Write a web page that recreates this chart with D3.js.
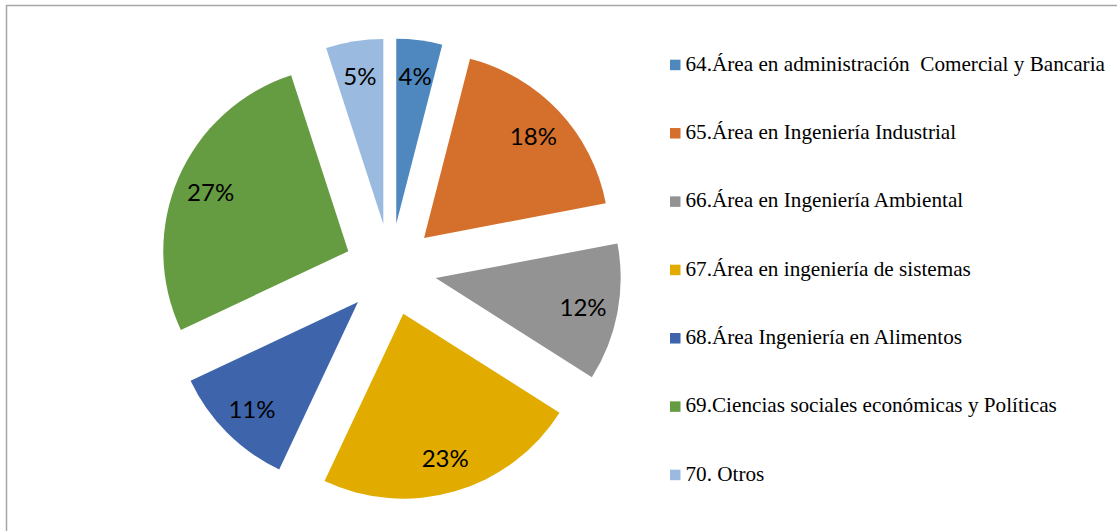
<!DOCTYPE html>
<html>
<head>
<meta charset="utf-8">
<script src="https://cdn.jsdelivr.net/npm/d3@7"></script>
<style>
    body { margin: 0; background: #ffffff; }
    #pieChart { width: 1117px; height: 531px; }
    svg { width: 1117px; height: 531px; display: block; }
    .legend text { font-family: "Liberation Serif", "Times New Roman", serif; font-size: 21.2px; white-space: pre; }
</style>
</head>
<body>
<div id="pieChart"></div>
<script>
// categories (legend order = slice order, clockwise from 12 o'clock)
const categories = [
    "64.Área en administración  Comercial y Bancaria",
    "65.Área en Ingeniería Industrial",
    "66.Área en Ingeniería Ambiental",
    "67.Área en ingeniería de sistemas",
    "68.Área Ingeniería en Alimentos",
    "69.Ciencias sociales económicas y Políticas",
    "70. Otros"
];
// percentages shown on the slices
const values = [4, 18, 12, 23, 11, 27, 5];
const colors = ["#4f88be", "#d5702c", "#939393", "#e2ab00", "#3e64ac", "#659b41", "#9bbae0"];

var svg;
var width, height;
var cx = 390.5, cy = 269.5;   // pie centre
var radius = 185;
var explode = 46;             // how far each slice is pulled out

document.addEventListener('DOMContentLoaded', function () {
    svg = d3.select('#pieChart').append('svg');
    width = +svg.style('width').replace('px', '');
    height = +svg.style('height').replace('px', '');

    // frame of the chart area (right & bottom edges fall outside the picture)
    svg.append("rect")
        .attr("x", 6.5)
        .attr("y", 5.5)
        .attr("width", width + 50)
        .attr("height", height + 50)
        .attr("fill", "none")
        .attr("stroke", "#a6a6a6")
        .attr("stroke-width", 1.5);

    drawPie();
    drawLegend();
});

function drawPie() {
    const pie = d3.pie().sort(null).value(d => d);
    const arcs = pie(values);

    const arc = d3.arc().innerRadius(0).outerRadius(radius);
    const labelArc = d3.arc().innerRadius(150).outerRadius(150);

    const g = svg.append("g")
        .attr("transform", `translate(${cx},${cy})`);

    const slice = g.selectAll("g.slice")
        .data(arcs)
        .enter()
        .append("g")
        .attr("class", "slice")
        .attr("transform", function (d) {
            const a = (d.startAngle + d.endAngle) / 2;
            return `translate(${Math.sin(a) * explode},${-Math.cos(a) * explode})`;
        });

    slice.append("path")
        .attr("d", arc)
        .attr("fill", (d, i) => colors[i]);

    slice.append("text")
        .attr("transform", d => `translate(${labelArc.centroid(d)})`)
        .attr("text-anchor", "middle")
        .attr("dominant-baseline", "central")
        .style("font-family", "Lato, 'Open Sans', sans-serif")
        .style("font-size", "24px")
        .style("fill", "#000000")
        .text(d => d.data + "%");
}

function drawLegend() {
    const legendX = 670;
    const firstBaseline = 70.7;
    const step = 68.33;
    const box = 10.5;

    const item = svg.append("g")
        .attr("class", "legend")
        .selectAll("g")
        .data(categories)
        .enter()
        .append("g")
        .attr("transform", (d, i) => `translate(${legendX},${firstBaseline + i * step})`);

    item.append("rect")
        .attr("x", 0)
        .attr("y", -box - 0.5)
        .attr("width", box)
        .attr("height", box)
        .attr("fill", (d, i) => colors[i]);

    item.append("text")
        .attr("x", 15.5)
        .attr("y", 0)
        .attr("fill", "#000000")
        .text(d => d);
}
</script>
</body>
</html>
